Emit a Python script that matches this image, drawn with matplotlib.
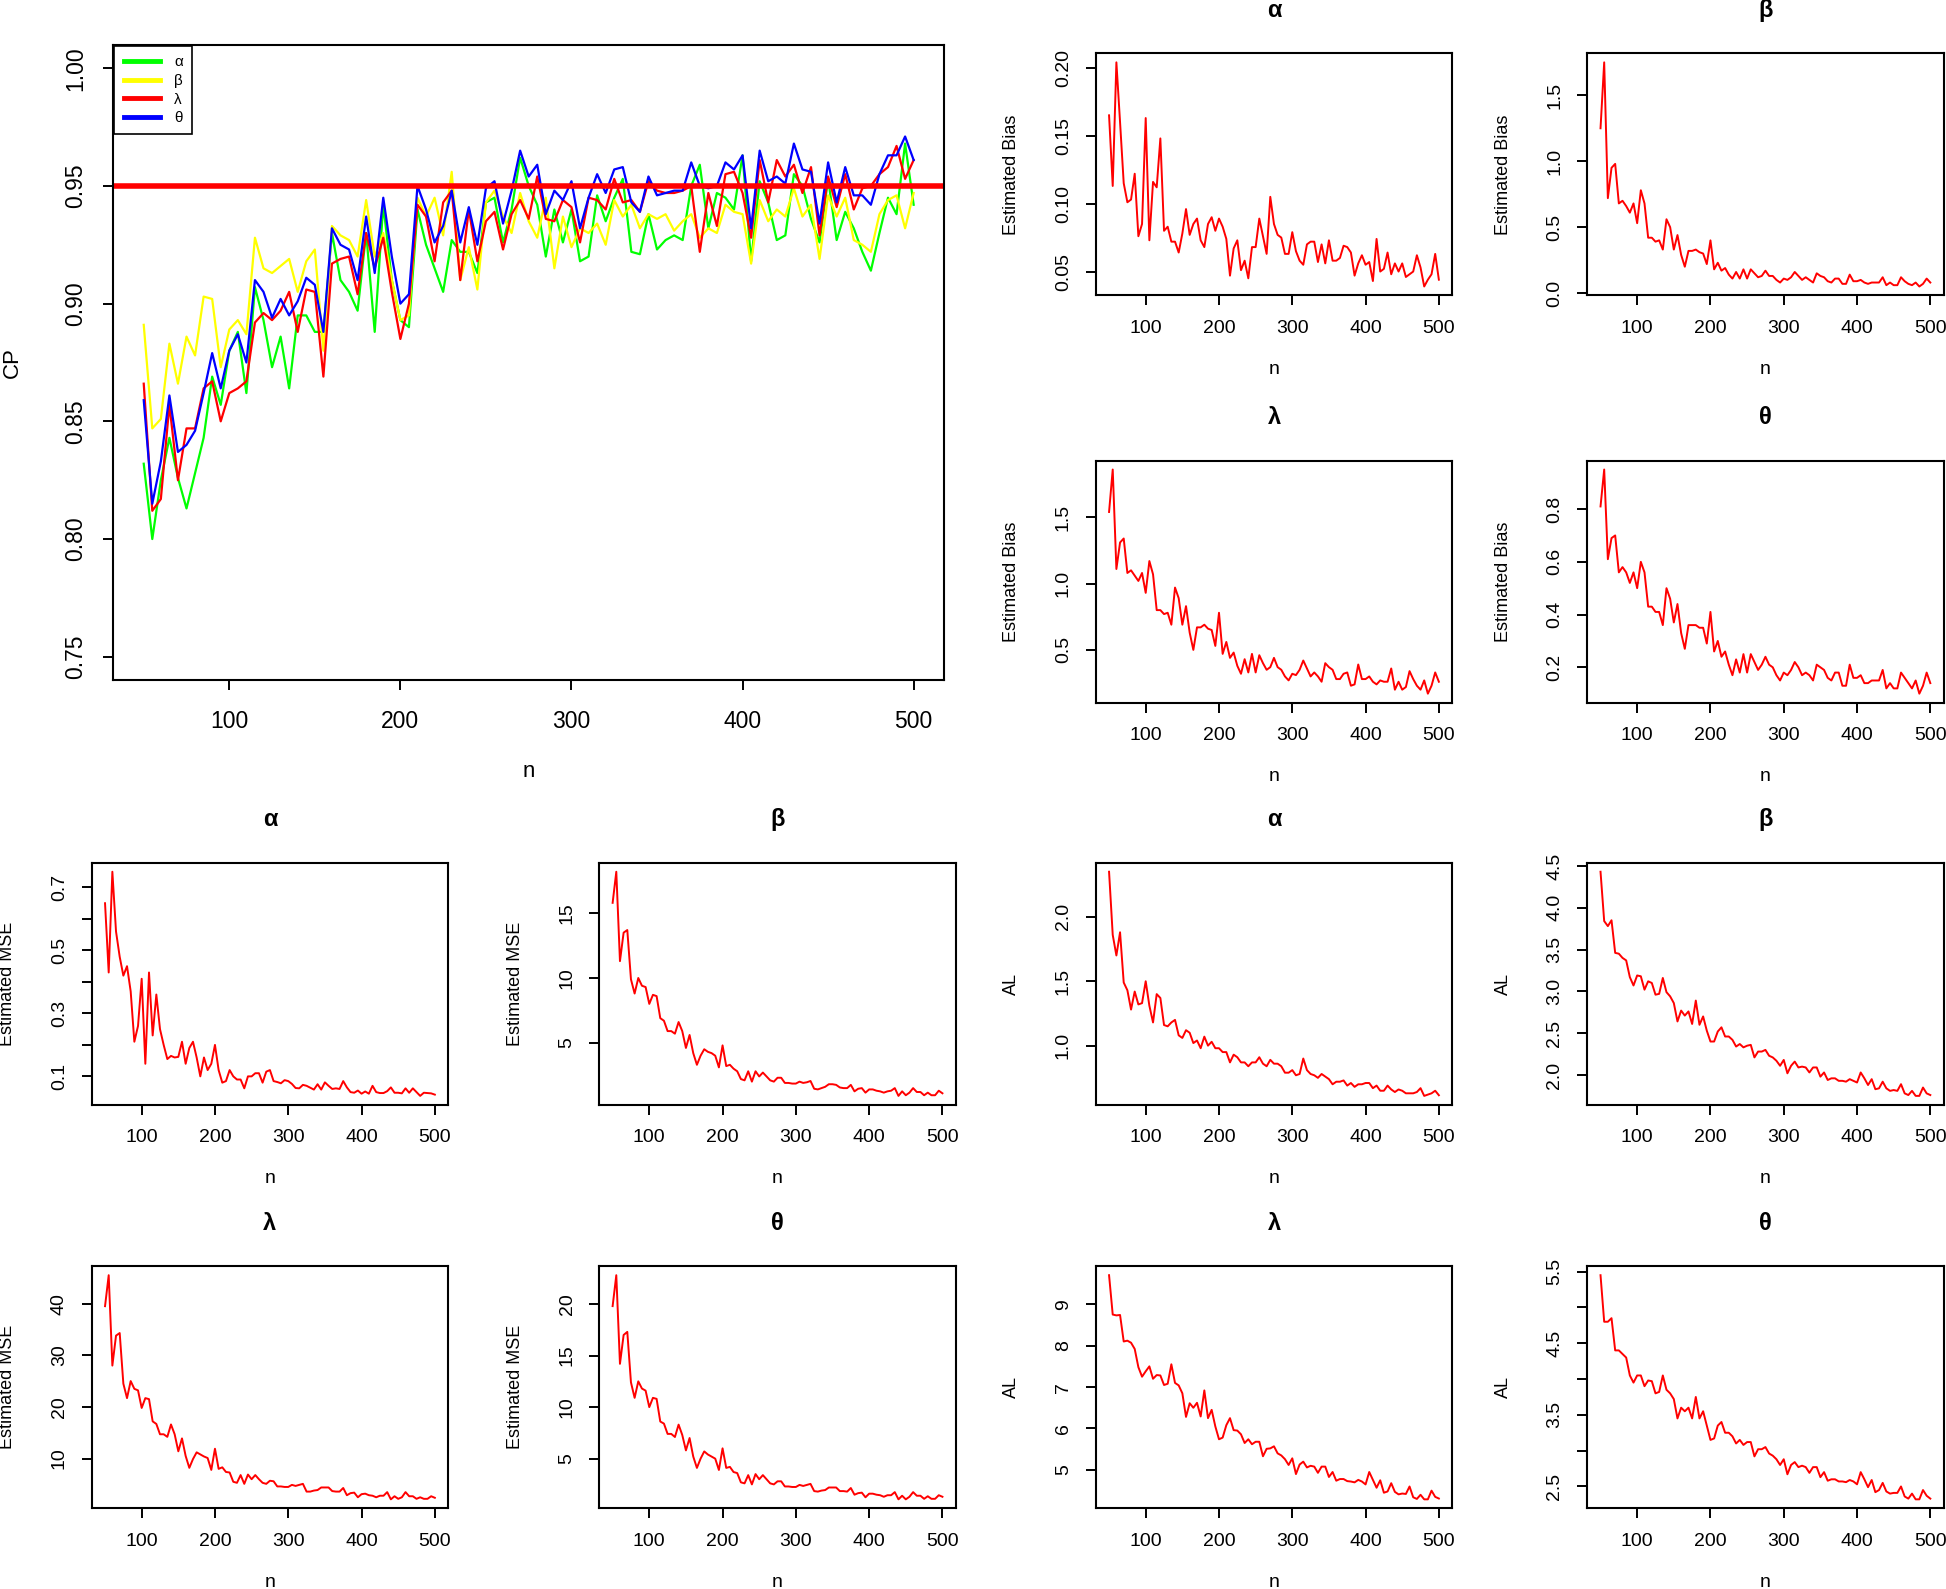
import matplotlib
matplotlib.use("Agg")
import matplotlib.pyplot as plt
from matplotlib.lines import Line2D

plt.rcParams['font.family'] = ['Liberation Sans', 'DejaVu Sans']

# ---------------- data ----------------
n = list(range(50, 501, 5))
params = ['α', 'β', 'λ', 'θ']
cp_colors = ['#00FF00', '#FFFF00', '#FF0000', '#0000FF']

cp_alpha = [0.832, 0.800, 0.825, 0.843, 0.826, 0.813, 0.828, 0.843, 0.869, 0.857,
            0.880, 0.888, 0.862, 0.907, 0.893, 0.873, 0.886, 0.864, 0.895, 0.895,
            0.888, 0.888, 0.930, 0.910, 0.905, 0.897, 0.930, 0.888, 0.942, 0.910,
            0.893, 0.890, 0.940, 0.925, 0.915, 0.905, 0.927, 0.922, 0.922, 0.913,
            0.943, 0.945, 0.926, 0.940, 0.962, 0.950, 0.942, 0.920, 0.940, 0.926,
            0.940, 0.918, 0.920, 0.946, 0.935, 0.945, 0.953, 0.922, 0.921, 0.938,
            0.923, 0.927, 0.929, 0.927, 0.950, 0.959, 0.932, 0.947, 0.945, 0.940,
            0.963, 0.918, 0.952, 0.943, 0.927, 0.929, 0.955, 0.950, 0.936, 0.926,
            0.953, 0.927, 0.939, 0.932, 0.922, 0.914, 0.930, 0.945, 0.938, 0.968,
            0.942]
cp_beta = [0.891, 0.847, 0.851, 0.883, 0.866, 0.886, 0.878, 0.903, 0.902, 0.873,
           0.889, 0.893, 0.887, 0.928, 0.915, 0.913, 0.916, 0.919, 0.905, 0.918,
           0.923, 0.880, 0.933, 0.929, 0.927, 0.920, 0.944, 0.920, 0.930, 0.910,
           0.893, 0.895, 0.945, 0.937, 0.945, 0.929, 0.956, 0.910, 0.924, 0.906,
           0.943, 0.948, 0.937, 0.930, 0.947, 0.935, 0.928, 0.945, 0.915, 0.937,
           0.924, 0.932, 0.930, 0.934, 0.925, 0.944, 0.937, 0.942, 0.932, 0.938,
           0.936, 0.938, 0.931, 0.935, 0.938, 0.928, 0.932, 0.930, 0.942, 0.939,
           0.938, 0.917, 0.944, 0.935, 0.940, 0.937, 0.949, 0.937, 0.942, 0.919,
           0.946, 0.937, 0.945, 0.927, 0.925, 0.922, 0.938, 0.944, 0.946, 0.932,
           0.947]
cp_lambda = [0.866, 0.812, 0.817, 0.857, 0.825, 0.847, 0.847, 0.864, 0.867, 0.850,
             0.862, 0.864, 0.867, 0.892, 0.896, 0.893, 0.897, 0.905, 0.888, 0.906,
             0.905, 0.869, 0.917, 0.919, 0.920, 0.904, 0.930, 0.915, 0.928, 0.905,
             0.885, 0.900, 0.942, 0.937, 0.918, 0.943, 0.948, 0.910, 0.940, 0.918,
             0.935, 0.939, 0.923, 0.938, 0.944, 0.936, 0.954, 0.936, 0.935, 0.944,
             0.941, 0.926, 0.945, 0.944, 0.940, 0.953, 0.943, 0.944, 0.939, 0.952,
             0.948, 0.947, 0.947, 0.948, 0.950, 0.922, 0.947, 0.933, 0.955, 0.956,
             0.947, 0.928, 0.961, 0.943, 0.961, 0.954, 0.959, 0.947, 0.958, 0.929,
             0.954, 0.941, 0.955, 0.940, 0.949, 0.950, 0.955, 0.958, 0.967, 0.953,
             0.961]
cp_theta = [0.859, 0.815, 0.833, 0.861, 0.837, 0.840, 0.846, 0.862, 0.879, 0.864,
            0.880, 0.887, 0.875, 0.910, 0.905, 0.894, 0.902, 0.895, 0.901, 0.911,
            0.908, 0.888, 0.932, 0.925, 0.923, 0.910, 0.937, 0.913, 0.945, 0.920,
            0.900, 0.904, 0.950, 0.940, 0.926, 0.933, 0.948, 0.926, 0.941, 0.925,
            0.949, 0.952, 0.934, 0.948, 0.965, 0.954, 0.959, 0.938, 0.948, 0.944,
            0.952, 0.932, 0.945, 0.955, 0.947, 0.957, 0.958, 0.943, 0.939, 0.954,
            0.946, 0.947, 0.948, 0.948, 0.960, 0.950, 0.949, 0.950, 0.960, 0.957,
            0.963, 0.932, 0.965, 0.952, 0.954, 0.951, 0.968, 0.957, 0.956, 0.934,
            0.960, 0.943, 0.958, 0.946, 0.946, 0.942, 0.955, 0.963, 0.963, 0.971,
            0.961]
cp_level = 0.95

bias_alpha = [0.165, 0.113, 0.204, 0.160, 0.115, 0.101, 0.103, 0.122, 0.076, 0.085,
              0.163, 0.073, 0.116, 0.112, 0.148, 0.080, 0.083, 0.072, 0.072, 0.064,
              0.078, 0.096, 0.077, 0.085, 0.089, 0.073, 0.068, 0.085, 0.090, 0.080,
              0.089, 0.083, 0.074, 0.047, 0.067, 0.073, 0.051, 0.058, 0.045, 0.068,
              0.068, 0.089, 0.076, 0.063, 0.105, 0.085, 0.077, 0.075, 0.063, 0.063,
              0.079, 0.065, 0.058, 0.055, 0.070, 0.072, 0.072, 0.057, 0.070, 0.056,
              0.073, 0.058, 0.058, 0.060, 0.069, 0.068, 0.064, 0.047, 0.056, 0.062,
              0.055, 0.057, 0.043, 0.074, 0.050, 0.052, 0.064, 0.048, 0.056, 0.050,
              0.056, 0.046, 0.048, 0.050, 0.062, 0.053, 0.039, 0.044, 0.048, 0.063,
              0.044]
bias_beta = [1.25, 1.75, 0.72, 0.95, 0.98, 0.68, 0.70, 0.66, 0.61, 0.68,
             0.53, 0.78, 0.68, 0.42, 0.42, 0.39, 0.40, 0.33, 0.56, 0.50,
             0.33, 0.44, 0.29, 0.20, 0.32, 0.32, 0.33, 0.31, 0.30, 0.22,
             0.40, 0.18, 0.23, 0.17, 0.19, 0.14, 0.11, 0.16, 0.11, 0.18,
             0.11, 0.18, 0.15, 0.12, 0.13, 0.17, 0.13, 0.13, 0.10, 0.08,
             0.11, 0.10, 0.12, 0.16, 0.13, 0.10, 0.12, 0.10, 0.08, 0.15,
             0.13, 0.12, 0.09, 0.08, 0.11, 0.11, 0.07, 0.07, 0.14, 0.09,
             0.09, 0.10, 0.08, 0.07, 0.08, 0.08, 0.08, 0.12, 0.06, 0.08,
             0.06, 0.06, 0.12, 0.09, 0.07, 0.06, 0.08, 0.05, 0.07, 0.11,
             0.08]
bias_lambda = [1.54, 1.86, 1.11, 1.31, 1.34, 1.08, 1.10, 1.06, 1.02, 1.08,
               0.93, 1.17, 1.07, 0.80, 0.80, 0.77, 0.78, 0.69, 0.97, 0.89,
               0.69, 0.83, 0.63, 0.50, 0.67, 0.67, 0.69, 0.66, 0.65, 0.53,
               0.78, 0.47, 0.56, 0.44, 0.48, 0.38, 0.32, 0.43, 0.33, 0.47,
               0.33, 0.46, 0.40, 0.35, 0.37, 0.44, 0.37, 0.35, 0.30, 0.27,
               0.32, 0.31, 0.35, 0.42, 0.36, 0.30, 0.33, 0.30, 0.26, 0.40,
               0.37, 0.35, 0.28, 0.28, 0.32, 0.33, 0.23, 0.24, 0.39, 0.28,
               0.28, 0.30, 0.26, 0.24, 0.27, 0.26, 0.26, 0.36, 0.20, 0.26,
               0.20, 0.22, 0.34, 0.28, 0.23, 0.20, 0.27, 0.17, 0.23, 0.33,
               0.26]
bias_theta = [0.81, 0.95, 0.61, 0.69, 0.70, 0.56, 0.58, 0.56, 0.52, 0.56,
              0.50, 0.60, 0.56, 0.43, 0.43, 0.41, 0.41, 0.36, 0.50, 0.46,
              0.37, 0.44, 0.33, 0.27, 0.36, 0.36, 0.36, 0.35, 0.35, 0.29,
              0.41, 0.26, 0.30, 0.24, 0.26, 0.21, 0.17, 0.23, 0.18, 0.25,
              0.18, 0.25, 0.22, 0.19, 0.21, 0.24, 0.21, 0.20, 0.17, 0.15,
              0.18, 0.17, 0.19, 0.22, 0.20, 0.17, 0.18, 0.17, 0.15, 0.21,
              0.20, 0.19, 0.16, 0.15, 0.18, 0.18, 0.13, 0.13, 0.21, 0.16,
              0.16, 0.17, 0.14, 0.14, 0.15, 0.15, 0.15, 0.19, 0.12, 0.14,
              0.12, 0.12, 0.18, 0.16, 0.14, 0.12, 0.15, 0.10, 0.13, 0.18,
              0.14]

mse_alpha = [0.65, 0.43, 0.75, 0.56, 0.48, 0.42, 0.45, 0.37, 0.21, 0.26,
             0.41, 0.14, 0.43, 0.23, 0.36, 0.25, 0.20, 0.155, 0.165, 0.16,
             0.162, 0.21, 0.14, 0.19, 0.21, 0.16, 0.10, 0.16, 0.12, 0.14,
             0.20, 0.12, 0.08, 0.085, 0.12, 0.10, 0.09, 0.09, 0.062, 0.10,
             0.10, 0.11, 0.11, 0.08, 0.115, 0.12, 0.085, 0.082, 0.078, 0.088,
             0.085, 0.076, 0.063, 0.062, 0.073, 0.07, 0.064, 0.058, 0.075, 0.058,
             0.081, 0.07, 0.06, 0.062, 0.06, 0.085, 0.065, 0.05, 0.048, 0.055,
             0.045, 0.052, 0.045, 0.07, 0.05, 0.047, 0.047, 0.053, 0.065, 0.048,
             0.048, 0.046, 0.062, 0.048, 0.062, 0.05, 0.038, 0.048, 0.047, 0.046,
             0.042]
mse_beta = [15.8, 18.2, 11.3, 13.5, 13.7, 9.9, 8.8, 10.0, 9.4, 9.3,
            8.0, 8.7, 8.6, 6.9, 6.7, 5.9, 5.9, 5.7, 6.6, 5.9,
            4.6, 5.6, 4.2, 3.3, 4.0, 4.5, 4.3, 4.2, 4.0, 3.1,
            4.8, 3.2, 3.3, 3.0, 2.8, 2.2, 2.1, 2.8, 2.0, 2.8,
            2.4, 2.7, 2.4, 2.1, 2.0, 2.3, 2.3, 1.9, 1.9, 1.85,
            1.85, 2.0, 1.9, 1.95, 2.05, 1.45, 1.4, 1.5, 1.6, 1.8,
            1.8, 1.75, 1.55, 1.5, 1.5, 1.75, 1.25, 1.45, 1.5, 1.15,
            1.4, 1.4, 1.3, 1.25, 1.15, 1.25, 1.3, 1.5, 0.9, 1.25,
            0.95, 1.15, 1.5, 1.2, 1.2, 0.95, 1.15, 0.95, 0.95, 1.3,
            1.1]
mse_lambda = [39.5, 45.5, 28.0, 33.8, 34.3, 24.5, 21.7, 25.0, 23.5, 23.2,
              19.8, 21.7, 21.5, 17.2, 16.7, 14.7, 14.7, 14.2, 16.6, 14.7,
              11.4, 13.9, 10.5, 8.2, 9.9, 11.2, 10.8, 10.4, 10.1, 7.8,
              11.9, 8.0, 8.3, 7.4, 7.3, 5.5, 5.3, 6.8, 5.1, 6.9,
              6.0, 6.8, 6.0, 5.3, 5.1, 5.7, 5.6, 4.6, 4.6, 4.5,
              4.5, 4.9, 4.7, 4.9, 5.1, 3.6, 3.6, 3.8, 3.9, 4.4,
              4.4, 4.4, 3.7, 3.6, 3.6, 4.3, 2.9, 3.3, 3.4, 2.5,
              3.1, 3.2, 2.9, 2.8, 2.5, 2.8, 2.8, 3.5, 2.1, 2.7,
              2.2, 2.5, 3.5, 2.7, 2.7, 2.2, 2.5, 2.2, 2.2, 2.7,
              2.4]
mse_theta = [19.8, 22.8, 14.2, 17.0, 17.3, 12.4, 10.9, 12.5, 11.8, 11.6,
             10.0, 10.9, 10.8, 8.6, 8.4, 7.4, 7.4, 7.1, 8.3, 7.3,
             5.8, 7.0, 5.2, 4.1, 5.0, 5.7, 5.4, 5.2, 5.0, 3.9,
             6.0, 4.1, 4.2, 3.7, 3.6, 2.7, 2.6, 3.4, 2.5, 3.5,
             3.0, 3.4, 3.0, 2.6, 2.5, 2.8, 2.8, 2.3, 2.3, 2.25,
             2.25, 2.45, 2.35, 2.45, 2.55, 1.85, 1.8, 1.9, 1.95, 2.2,
             2.2, 2.2, 1.85, 1.85, 1.8, 2.15, 1.5, 1.65, 1.7, 1.25,
             1.6, 1.6, 1.5, 1.45, 1.3, 1.45, 1.45, 1.75, 1.05, 1.4,
             1.05, 1.3, 1.75, 1.4, 1.4, 1.1, 1.35, 1.1, 1.1, 1.45,
             1.3]

al_alpha = [2.35, 1.86, 1.70, 1.88, 1.49, 1.43, 1.28, 1.42, 1.32, 1.33,
            1.50, 1.31, 1.18, 1.40, 1.37, 1.16, 1.15, 1.18, 1.20, 1.08,
            1.06, 1.12, 1.10, 1.02, 1.04, 0.98, 1.07, 1.00, 1.03, 0.98,
            0.98, 0.95, 0.95, 0.87, 0.93, 0.91, 0.87, 0.87, 0.84, 0.87,
            0.87, 0.91, 0.86, 0.84, 0.89, 0.86, 0.86, 0.84, 0.79, 0.79,
            0.81, 0.77, 0.78, 0.90, 0.81, 0.78, 0.77, 0.75, 0.78, 0.76,
            0.74, 0.70, 0.72, 0.72, 0.73, 0.69, 0.71, 0.68, 0.70, 0.70,
            0.71, 0.71, 0.67, 0.69, 0.65, 0.65, 0.69, 0.66, 0.64, 0.66,
            0.65, 0.63, 0.63, 0.63, 0.64, 0.67, 0.61, 0.62, 0.63, 0.65,
            0.615]
al_beta = [4.43, 3.84, 3.78, 3.85, 3.46, 3.45, 3.40, 3.37, 3.17, 3.07,
           3.19, 3.18, 3.02, 3.12, 3.10, 2.96, 2.97, 3.16, 2.99, 2.94,
           2.86, 2.64, 2.77, 2.71, 2.76, 2.61, 2.89, 2.60, 2.70, 2.53,
           2.40, 2.40, 2.52, 2.57, 2.46, 2.46, 2.42, 2.34, 2.37, 2.33,
           2.35, 2.36, 2.21, 2.28, 2.28, 2.30, 2.23, 2.21, 2.17, 2.11,
           2.18, 2.02, 2.11, 2.16, 2.09, 2.10, 2.09, 2.03, 2.09, 2.09,
           1.98, 2.03, 1.94, 1.96, 1.96, 1.93, 1.93, 1.92, 1.95, 1.93,
           1.91, 2.03, 1.96, 1.88, 1.95, 1.83, 1.84, 1.92, 1.84, 1.81,
           1.82, 1.81, 1.89, 1.78, 1.76, 1.81, 1.75, 1.75, 1.85, 1.78,
           1.76]
al_lambda = [9.70, 8.75, 8.73, 8.74, 8.10, 8.12, 8.07, 7.92, 7.48, 7.25,
             7.38, 7.50, 7.20, 7.29, 7.28, 7.05, 7.08, 7.55, 7.10, 7.04,
             6.85, 6.28, 6.61, 6.50, 6.62, 6.29, 6.92, 6.25, 6.45, 6.05,
             5.74, 5.78, 6.08, 6.25, 5.96, 5.95, 5.86, 5.65, 5.74, 5.62,
             5.68, 5.68, 5.33, 5.51, 5.52, 5.57, 5.40, 5.35, 5.26, 5.12,
             5.28, 4.90, 5.13, 5.20, 5.06, 5.10, 5.08, 4.93, 5.08, 5.08,
             4.83, 4.95, 4.74, 4.78, 4.78, 4.73, 4.72, 4.70, 4.76, 4.72,
             4.65, 4.95, 4.76, 4.57, 4.75, 4.45, 4.48, 4.68, 4.47, 4.41,
             4.43, 4.42, 4.60, 4.34, 4.30, 4.40, 4.29, 4.29, 4.50, 4.35,
             4.31]
al_theta = [5.45, 4.80, 4.80, 4.85, 4.40, 4.40, 4.35, 4.30, 4.05, 3.95,
            4.05, 4.05, 3.90, 3.98, 3.97, 3.80, 3.82, 4.05, 3.85, 3.80,
            3.72, 3.45, 3.60, 3.55, 3.60, 3.45, 3.75, 3.45, 3.55, 3.35,
            3.15, 3.17, 3.35, 3.40, 3.25, 3.25, 3.20, 3.10, 3.15, 3.08,
            3.12, 3.12, 2.92, 3.02, 3.02, 3.05, 2.96, 2.93, 2.88, 2.80,
            2.88, 2.67, 2.80, 2.84, 2.77, 2.79, 2.77, 2.69, 2.77, 2.77,
            2.63, 2.70, 2.58, 2.60, 2.60, 2.57, 2.57, 2.56, 2.59, 2.57,
            2.53, 2.70, 2.60, 2.49, 2.59, 2.42, 2.45, 2.55, 2.43, 2.40,
            2.41, 2.41, 2.50, 2.36, 2.33, 2.40, 2.32, 2.32, 2.45, 2.37,
            2.33]

x_ticks = [100, 200, 300, 400, 500]
cp_yticks = [0.75, 0.80, 0.85, 0.90, 0.95, 1.00]
cp_ylabels = ['0.75', '0.80', '0.85', '0.90', '0.95', '1.00']

# panel spec: (series, title, ylabel, yticks, ytick labels, col, row)
panels = [
    (bias_alpha, 'α', 'Estimated Bias', [0.05, 0.10, 0.15, 0.20], ['0.05', '0.10', '0.15', '0.20'], 2, 0),
    (bias_beta, 'β', 'Estimated Bias', [0.0, 0.5, 1.0, 1.5], ['0.0', '0.5', '1.0', '1.5'], 3, 0),
    (bias_lambda, 'λ', 'Estimated Bias', [0.5, 1.0, 1.5], ['0.5', '1.0', '1.5'], 2, 1),
    (bias_theta, 'θ', 'Estimated Bias', [0.2, 0.4, 0.6, 0.8], ['0.2', '0.4', '0.6', '0.8'], 3, 1),
    (mse_alpha, 'α', 'Estimated MSE', [0.1, 0.2, 0.3, 0.4, 0.5, 0.6, 0.7],
     ['0.1', '', '0.3', '', '0.5', '', '0.7'], 0, 2),
    (mse_beta, 'β', 'Estimated MSE', [5, 10, 15], ['5', '10', '15'], 1, 2),
    (al_alpha, 'α', 'AL', [1.0, 1.5, 2.0], ['1.0', '1.5', '2.0'], 2, 2),
    (al_beta, 'β', 'AL', [2.0, 2.5, 3.0, 3.5, 4.0, 4.5], ['2.0', '2.5', '3.0', '3.5', '4.0', '4.5'], 3, 2),
    (mse_lambda, 'λ', 'Estimated MSE', [10, 20, 30, 40], ['10', '20', '30', '40'], 0, 3),
    (mse_theta, 'θ', 'Estimated MSE', [5, 10, 15, 20], ['5', '10', '15', '20'], 1, 3),
    (al_lambda, 'λ', 'AL', [5, 6, 7, 8, 9], ['5', '6', '7', '8', '9'], 2, 3),
    (al_theta, 'θ', 'AL', [2.5, 3.0, 3.5, 4.0, 4.5, 5.0, 5.5],
     ['2.5', '', '3.5', '', '4.5', '', '5.5'], 3, 3),
]

# ---------------- layout ----------------
W, H, DPI = 1946, 1589, 100
RW, RH = 1568.0, 1280.0   # reference layout units


def rect(l, t, r, b):
    return [l / RW, 1 - b / RH, (r - l) / RW, (b - t) / RH]


col_left = [74, 483, 883, 1279]
row_top = [43, 371, 695, 1020]
PW, PH = 287, 195

fig = plt.figure(figsize=(W / DPI, H / DPI), dpi=DPI)
fig.patch.set_facecolor('white')


def style_axes(ax, tick_fs, xpad, ypad):
    for s in ax.spines.values():
        s.set_linewidth(1.5)
        s.set_color('black')
    ax.tick_params(axis='both', direction='out', length=7.2, width=1.4,
                   colors='black', labelsize=tick_fs)
    ax.tick_params(axis='x', pad=xpad)
    ax.tick_params(axis='y', pad=ypad)
    for lab in ax.get_yticklabels():
        lab.set_rotation(90)
        lab.set_va('center')


# ---- big CP panel ----
ax = fig.add_axes(rect(91, 36, 761, 548))
series_cp = [cp_alpha, cp_beta, cp_lambda, cp_theta]
for ys, c in zip(series_cp, cp_colors):
    ax.plot(n, ys, color=c, lw=1.6)
ax.axhline(cp_level, color='#FF0000', lw=4)
ax.margins(x=0.04)
ax.set_ylim(0.74, 1.01)
ax.set_xticks(x_ticks)
ax.set_xticklabels([str(v) for v in x_ticks])
ax.set_yticks(cp_yticks)
ax.set_yticklabels(cp_ylabels)
style_axes(ax, 16.5, 14, 11.5)
ax.set_xlabel('n', fontsize=16)
ax.set_ylabel('CP', fontsize=16)
ax.xaxis.set_label_coords(0.5, -0.143)
ax.xaxis.label.set_va('center')
ax.yaxis.set_label_coords(-0.121, 0.5)
ax.yaxis.label.set_va('center')
handles = [Line2D([], [], color=c, lw=3.5) for c in cp_colors]
leg = ax.legend(handles, params, loc='upper left', bbox_to_anchor=(0, 1),
                borderaxespad=0.1, frameon=True, fancybox=False, framealpha=1,
                edgecolor='black', fontsize=11, handlelength=2.4,
                handletextpad=0.9, labelspacing=0.3, borderpad=0.6)
leg.get_frame().set_linewidth(1.2)

# ---- small panels ----
for ys, title, ylab, yt, ytl, c, r in panels:
    l = col_left[c]
    t = row_top[r]
    ax = fig.add_axes(rect(l, t, l + PW, t + PH))
    ax.plot(n, ys, color='#FF0000', lw=1.4)
    ax.margins(x=0.04, y=0.04)
    ax.set_xticks(x_ticks)
    ax.set_xticklabels([str(v) for v in x_ticks])
    ax.set_yticks(yt)
    ax.set_yticklabels(ytl)
    style_axes(ax, 14, 10.5, 10)
    ax.set_title(title, fontsize=17, fontweight='bold', y=1.178, va='center', pad=0)
    ax.set_xlabel('n', fontsize=14)
    ax.set_ylabel(ylab, fontsize=13)
    ax.xaxis.set_label_coords(0.5, -0.305)
    ax.xaxis.label.set_va('center')
    ax.yaxis.set_label_coords(-0.236, 0.5)
    ax.yaxis.label.set_va('center')

fig.savefig('out.png', dpi=DPI, facecolor='white')
